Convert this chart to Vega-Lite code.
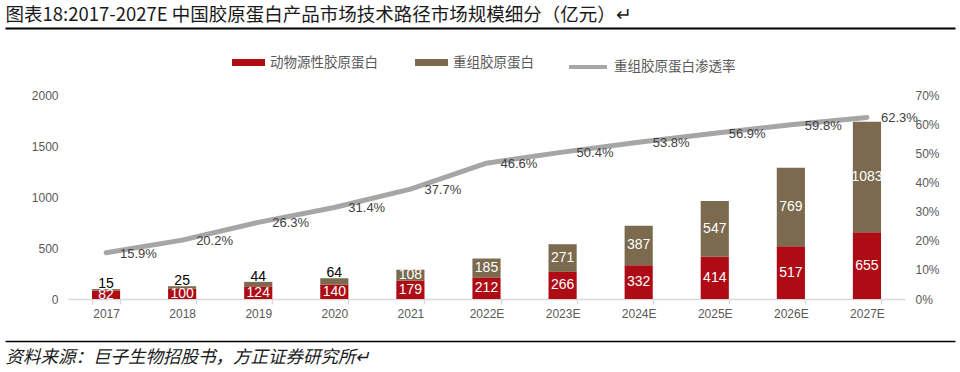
{
  "$schema": "https://vega.github.io/schema/vega-lite/v6.json",
  "padding": 5,
  "spacing": 0,
  "config": {"view": {"stroke": null}, "font": "Liberation Sans"},
  "resolve": {
    "scale": {"color": "independent", "stroke": "independent"},
    "legend": {"color": "independent", "stroke": "independent"}
  },
  "datasets": {
    "bars": [
      {"year": "2017", "type": "动物源性胶原蛋白", "value": 82},
      {"year": "2017", "type": "重组胶原蛋白", "value": 15},
      {"year": "2018", "type": "动物源性胶原蛋白", "value": 100},
      {"year": "2018", "type": "重组胶原蛋白", "value": 25},
      {"year": "2019", "type": "动物源性胶原蛋白", "value": 124},
      {"year": "2019", "type": "重组胶原蛋白", "value": 44},
      {"year": "2020", "type": "动物源性胶原蛋白", "value": 140},
      {"year": "2020", "type": "重组胶原蛋白", "value": 64},
      {"year": "2021", "type": "动物源性胶原蛋白", "value": 179},
      {"year": "2021", "type": "重组胶原蛋白", "value": 108},
      {"year": "2022E", "type": "动物源性胶原蛋白", "value": 212},
      {"year": "2022E", "type": "重组胶原蛋白", "value": 185},
      {"year": "2023E", "type": "动物源性胶原蛋白", "value": 266},
      {"year": "2023E", "type": "重组胶原蛋白", "value": 271},
      {"year": "2024E", "type": "动物源性胶原蛋白", "value": 332},
      {"year": "2024E", "type": "重组胶原蛋白", "value": 387},
      {"year": "2025E", "type": "动物源性胶原蛋白", "value": 414},
      {"year": "2025E", "type": "重组胶原蛋白", "value": 547},
      {"year": "2026E", "type": "动物源性胶原蛋白", "value": 517},
      {"year": "2026E", "type": "重组胶原蛋白", "value": 769},
      {"year": "2027E", "type": "动物源性胶原蛋白", "value": 655},
      {"year": "2027E", "type": "重组胶原蛋白", "value": 1083}
    ],
    "rate": [
      {"year": "2017", "rate": 0.159},
      {"year": "2018", "rate": 0.202},
      {"year": "2019", "rate": 0.263},
      {"year": "2020", "rate": 0.314},
      {"year": "2021", "rate": 0.377},
      {"year": "2022E", "rate": 0.466},
      {"year": "2023E", "rate": 0.504},
      {"year": "2024E", "rate": 0.538},
      {"year": "2025E", "rate": 0.569},
      {"year": "2026E", "rate": 0.598},
      {"year": "2027E", "rate": 0.623}
    ]
  },
  "vconcat": [
    {
      "width": 950,
      "height": 18,
      "data": {"values": [{"v": 0}]},
      "mark": {"type": "rule", "opacity": 0},
      "encoding": {
        "x": {
          "field": "v", "type": "quantitative",
          "scale": {"domain": [0, 1]},
          "axis": {
            "orient": "top", "position": -63,
            "title": "图表18:2017-2027E 中国胶原蛋白产品市场技术路径市场规模细分（亿元）↵",
            "titleAnchor": "start", "titleAlign": "left",
            "titleFont": "Noto Sans CJK SC", "titleFontSize": 18.5, "titleFontWeight": "normal",
            "titleColor": "#1a1a1a", "titlePadding": 4,
            "domainColor": "#000000", "domainWidth": 2,
            "ticks": false, "labels": false, "grid": false
          }
        }
      }
    },
    {
      "width": 837,
      "height": 204,
      "layer": [
        {
          "data": {"name": "bars"},
          "layer": [
            {
              "mark": {"type": "bar"},
              "encoding": {
                "x": {
                  "field": "year", "type": "ordinal", "title": null,
                  "scale": {"domain": ["2017", "2018", "2019", "2020", "2021", "2022E", "2023E", "2024E", "2025E", "2026E", "2027E"], "paddingInner": 0.63, "paddingOuter": 0.315},
                  "axis": {
                    "labelAngle": 0, "tickBand": "extent", "tickSize": 5,
                    "tickColor": "#D9D9D9", "domainColor": "#D9D9D9", "domainWidth": 1.5, "tickWidth": 1.5,
                    "labelColor": "#595959", "labelFontSize": 12, "labelPadding": 4, "grid": false
                  }
                },
                "y": {
                  "field": "value", "type": "quantitative", "stack": "zero", "title": null,
                  "scale": {"domain": [0, 2000]},
                  "axis": {
                    "values": [0, 500, 1000, 1500, 2000], "format": "d", "labelOverlap": false,
                    "domain": false, "ticks": false, "grid": false,
                    "labelColor": "#595959", "labelFontSize": 12, "labelPadding": 10, "minExtent": 63
                  }
                },
                "color": {
                  "field": "type", "type": "nominal",
                  "scale": {"domain": ["动物源性胶原蛋白", "重组胶原蛋白"], "range": ["#AE0B15", "#7B6A4E"]},
                  "legend": {
                    "orient": "none", "legendX": 164, "legendY": -49, "direction": "horizontal", "title": null,
                    "symbolType": "M-1,-0.21H1V0.21H-1Z", "symbolSize": 1089, "symbolStrokeWidth": 0,
                    "labelFont": "Noto Sans CJK SC", "labelFontSize": 13.5, "labelColor": "#595959",
                    "labelOffset": 5, "columnPadding": 37, "labelLimit": 300
                  }
                },
                "order": {"field": "type", "sort": "ascending"}
              }
            },
            {
              "transform": [
                {"stack": "value", "groupby": ["year"], "sort": [{"field": "type", "order": "ascending"}], "as": ["v0", "v1"]},
                {"calculate": "(datum.v0 + datum.v1) / 2", "as": "mid"},
                {"filter": "datum.type == '动物源性胶原蛋白' || datum.value >= 100"}
              ],
              "mark": {"type": "text", "color": "#ffffff", "fontSize": 14, "baseline": "middle"},
              "encoding": {
                "x": {"field": "year", "type": "ordinal", "title": null},
                "y": {"field": "mid", "type": "quantitative", "title": null},
                "text": {"field": "value", "type": "quantitative"}
              }
            },
            {
              "transform": [
                {"stack": "value", "groupby": ["year"], "sort": [{"field": "type", "order": "ascending"}], "as": ["v0", "v1"]},
                {"filter": "datum.type == '重组胶原蛋白' && datum.value < 100"}
              ],
              "mark": {"type": "text", "color": "#000000", "fontSize": 14, "baseline": "alphabetic", "dy": -1},
              "encoding": {
                "x": {"field": "year", "type": "ordinal", "title": null},
                "y": {"field": "v1", "type": "quantitative", "title": null},
                "text": {"field": "value", "type": "quantitative"}
              }
            }
          ]
        },
        {
          "data": {"name": "rate"},
          "layer": [
            {
              "mark": {"type": "line", "strokeWidth": 5, "strokeCap": "round", "strokeJoin": "round"},
              "encoding": {
                "x": {"field": "year", "type": "ordinal", "title": null},
                "y": {
                  "field": "rate", "type": "quantitative", "title": null,
                  "scale": {"domain": [0, 0.7]},
                  "axis": {
                    "orient": "right", "format": ".0%", "values": [0, 0.1, 0.2, 0.3, 0.4, 0.5, 0.6, 0.7], "labelOverlap": false,
                    "domain": false, "ticks": false, "grid": false,
                    "labelColor": "#595959", "labelFontSize": 12, "labelPadding": 10
                  }
                },
                "stroke": {
                  "datum": "重组胶原蛋白渗透率", "type": "nominal",
                  "scale": {"range": ["#A6A6A6"]},
                  "legend": {
                    "orient": "none", "legendX": 499, "legendY": -49, "title": null,
                    "symbolType": "stroke", "symbolSize": 1444, "symbolStrokeWidth": 4,
                    "labelFont": "Noto Sans CJK SC", "labelFontSize": 13.5, "labelColor": "#595959",
                    "labelOffset": 5, "labelLimit": 300
                  }
                }
              }
            },
            {
              "mark": {"type": "text", "align": "left", "baseline": "middle", "dx": 14, "dy": 1, "fontSize": 13, "color": "#404040"},
              "encoding": {
                "x": {"field": "year", "type": "ordinal", "title": null},
                "y": {
                  "field": "rate", "type": "quantitative", "title": null,
                  "axis": {
                    "orient": "right", "format": ".0%", "values": [0, 0.1, 0.2, 0.3, 0.4, 0.5, 0.6, 0.7], "labelOverlap": false,
                    "domain": false, "ticks": false, "grid": false,
                    "labelColor": "#595959", "labelFontSize": 12, "labelPadding": 10
                  }
                },
                "text": {"field": "rate", "type": "quantitative", "format": ".1%"}
              }
            }
          ]
        }
      ],
      "resolve": {"scale": {"y": "independent"}}
    },
    {
      "width": 950,
      "height": 22,
      "data": {"values": [{"v": 0}]},
      "mark": {"type": "rule", "opacity": 0},
      "encoding": {
        "x": {
          "field": "v", "type": "quantitative",
          "scale": {"domain": [0, 1]},
          "axis": {
            "orient": "bottom", "position": -63,
            "title": "资料来源：巨子生物招股书，方正证券研究所↵",
            "titleAnchor": "start", "titleAlign": "left", "titleBaseline": "top",
            "titleFont": "Noto Sans CJK SC", "titleFontSize": 17.5, "titleFontWeight": "normal", "titleFontStyle": "italic",
            "titleColor": "#1a1a1a", "titlePadding": 7,
            "domainColor": "#000000", "domainWidth": 1.5,
            "ticks": false, "labels": false, "grid": false
          }
        }
      }
    }
  ]
}
